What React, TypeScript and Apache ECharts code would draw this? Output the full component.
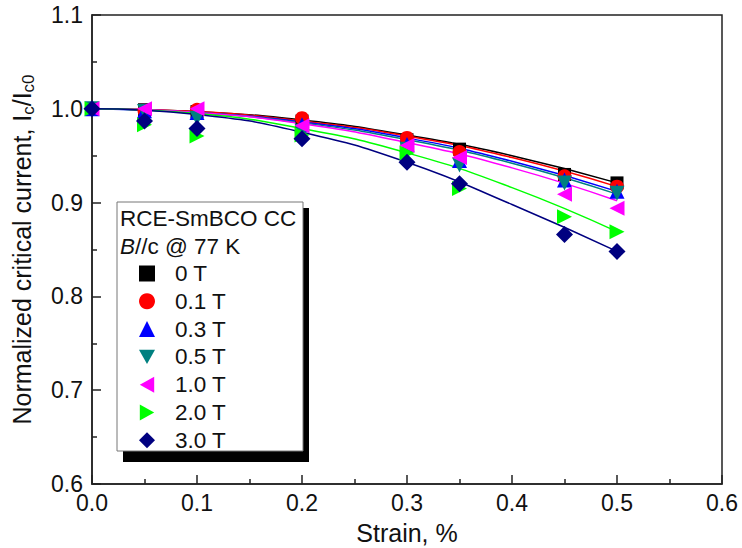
import React, { useEffect, useRef } from "react";
import * as echarts from "echarts";

const strain = [0, 0.05, 0.1, 0.2, 0.3, 0.35, 0.45, 0.5];

const seriesNames = ["0 T", "0.1 T", "0.3 T", "0.5 T", "1.0 T", "2.0 T", "3.0 T"];
const ic0T = [1.0, 0.999, 0.997, 0.987, 0.967, 0.957, 0.930, 0.921];
const ic01T = [1.0, 0.998, 0.999, 0.990, 0.969, 0.954, 0.928, 0.917];
const ic03T = [1.0, 0.998, 0.996, 0.983, 0.962, 0.945, 0.924, 0.912];
const ic05T = [1.0, 0.997, 0.990, 0.976, 0.957, 0.940, 0.921, 0.910];
const ic10T = [1.0, 1.0, 1.0, 0.982, 0.961, 0.948, 0.909, 0.894];
const ic20T = [1.0, 0.983, 0.971, 0.972, 0.953, 0.915, 0.885, 0.869];
const ic30T = [1.0, 0.987, 0.979, 0.968, 0.943, 0.920, 0.866, 0.848];

// fitted curves, values
const fitStrain = [0, 0.1, 0.2, 0.3, 0.4, 0.5];
const fit0T = [1.0, 0.997, 0.988, 0.972, 0.950, 0.921];
const fit01T = [1.0, 0.997, 0.987, 0.971, 0.948, 0.917];
const fit03T = [1.0, 0.996, 0.986, 0.969, 0.944, 0.912];
const fit05T = [1.0, 0.996, 0.985, 0.967, 0.942, 0.909];
const fit10T = [1.0, 0.996, 0.984, 0.964, 0.937, 0.902];
const fit20T = [1.0, 0.995, 0.979, 0.953, 0.916, 0.869];
const fit30T = [1.0, 0.994, 0.975, 0.943, 0.898, 0.848];

const xTicks = [0, 0.1, 0.2, 0.3, 0.4, 0.5, 0.6];
const yTicks = [0.6, 0.7, 0.8, 0.9, 1.0, 1.1];

const colors = ["#000000", "#ff0000", "#0000ff", "#008080", "#ff00ff", "#00ff00", "#000080"];
const symbols = ["rect", "circle", "triangle", "triangle", "triangle", "triangle", "diamond"];
const rotations = [0, 0, 0, 180, 90, -90, 0];
const sizes = [13, 14, 15, 15, 15, 15, 17];
const legendIcons = [
  "rect",
  "circle",
  "triangle",
  "path://M0,0L10,0L5,9Z",
  "path://M9,0L9,10L0,5Z",
  "path://M0,0L9,5L0,10Z",
  "diamond",
];

const FONT = "Liberation Sans";

export default function App() {
  const ref = useRef<HTMLDivElement>(null);
  useEffect(() => {
    document.body.style.margin = "0";
    const chart = echarts.init(ref.current!, null, { renderer: "svg" });
    const data = [ic0T, ic01T, ic03T, ic05T, ic10T, ic20T, ic30T];
    const fits = [fit0T, fit01T, fit03T, fit05T, fit10T, fit20T, fit30T];
    const series: any[] = [];
    fits.forEach((f, i) => {
      series.push({
        name: seriesNames[i] + " fit",
        type: "line",
        data: fitStrain.map((x, j) => [x, f[j]]),
        smooth: 0.5,
        showSymbol: false,
        lineStyle: { color: colors[i], width: 1.5 },
        z: 1,
        silent: true,
      });
    });
    data.forEach((d, i) => {
      series.push({
        name: seriesNames[i],
        type: "scatter",
        data: strain.map((x, j) => [x, d[j]]),
        symbol: symbols[i],
        symbolRotate: rotations[i],
        symbolSize: sizes[i],
        itemStyle: { color: colors[i], opacity: 1 },
        z: 2 + i * 0.01,
      });
    });
    chart.setOption({
      animation: false,
      grid: {
        left: 92,
        right: 20,
        top: 15,
        bottom: 64,
        show: true,
        borderColor: "#222",
        borderWidth: 1.5,
        outerBoundsMode: "none",
      },
      xAxis: {
        type: "value",
        min: xTicks[0],
        max: xTicks[xTicks.length - 1],
        interval: 0.1,
        name: "Strain, %",
        nameLocation: "middle",
        nameGap: 36,
        nameTextStyle: { fontFamily: FONT, fontSize: 25, color: "#111" },
        axisLine: { lineStyle: { color: "#222", width: 1.5 } },
        axisTick: { inside: true, length: 9, lineStyle: { color: "#222", width: 1.5 } },
        minorTick: { show: true, splitNumber: 2, length: 5, lineStyle: { color: "#222", width: 1.5 } },
        splitLine: { show: false },
        axisLabel: {
          fontFamily: FONT,
          fontSize: 23,
          color: "#111",
          margin: 7,
          formatter: (v: number) => v.toFixed(1),
        },
      },
      yAxis: {
        type: "value",
        min: yTicks[0],
        max: yTicks[yTicks.length - 1],
        interval: 0.1,
        name: "{a|Normalized critical current, I}{s|c}{a|/I}{s|c0}",
        nameLocation: "middle",
        nameRotate: 90,
        nameGap: 55,
        nameTextStyle: {
          fontFamily: FONT,
          fontSize: 25,
          color: "#111",
          rich: {
            a: { fontFamily: FONT, fontSize: 25, color: "#111", lineHeight: 30, verticalAlign: "middle" },
            s: { fontFamily: FONT, fontSize: 17, color: "#111", lineHeight: 14, verticalAlign: "bottom" },
          },
        },
        axisLine: { lineStyle: { color: "#222", width: 1.5 } },
        axisTick: { inside: true, length: 9, lineStyle: { color: "#222", width: 1.5 } },
        minorTick: { show: true, splitNumber: 2, length: 5, lineStyle: { color: "#222", width: 1.5 } },
        splitLine: { show: false },
        axisLabel: {
          fontFamily: FONT,
          fontSize: 23,
          color: "#111",
          margin: 9,
          formatter: (v: number) => v.toFixed(1),
        },
      },
      legend: {
        data: seriesNames.map((n, i) => ({ name: n, icon: legendIcons[i] })),
        orient: "vertical",
        left: 139,
        top: 262,
        padding: 0,
        itemWidth: 16,
        itemHeight: 16,
        itemGap: 4.8,
        z: 6,
        textStyle: {
          fontFamily: FONT,
          fontSize: 22.5,
          color: "#111",
          padding: [0, 0, 0, 15],
        },
        selectedMode: false,
      },
      graphic: [
        { type: "rect", z: 3, shape: { x: 123, y: 208, width: 186, height: 254 }, style: { fill: "#000" } },
        {
          type: "rect",
          z: 4,
          shape: { x: 117, y: 202, width: 186, height: 249 },
          style: { fill: "#fff", stroke: "#777", lineWidth: 1 },
        },
        {
          type: "text",
          z: 5,
          x: 120,
          y: 218,
          style: { text: "RCE-SmBCO CC", fontFamily: FONT, fontSize: 22.5, fill: "#111", verticalAlign: "middle" },
        },
        {
          type: "text",
          z: 5,
          x: 120,
          y: 246,
          style: {
            text: "{i|B}{n|//c @ 77 K}",
            verticalAlign: "middle",
            rich: {
              i: { fontFamily: FONT, fontSize: 22.5, fontStyle: "italic", fill: "#111" },
              n: { fontFamily: FONT, fontSize: 22.5, fill: "#111" },
            },
          },
        },
      ],
      series,
    });
    return () => chart.dispose();
  }, []);
  return <div ref={ref} style={{ width: 742, height: 548 }} />;
}
